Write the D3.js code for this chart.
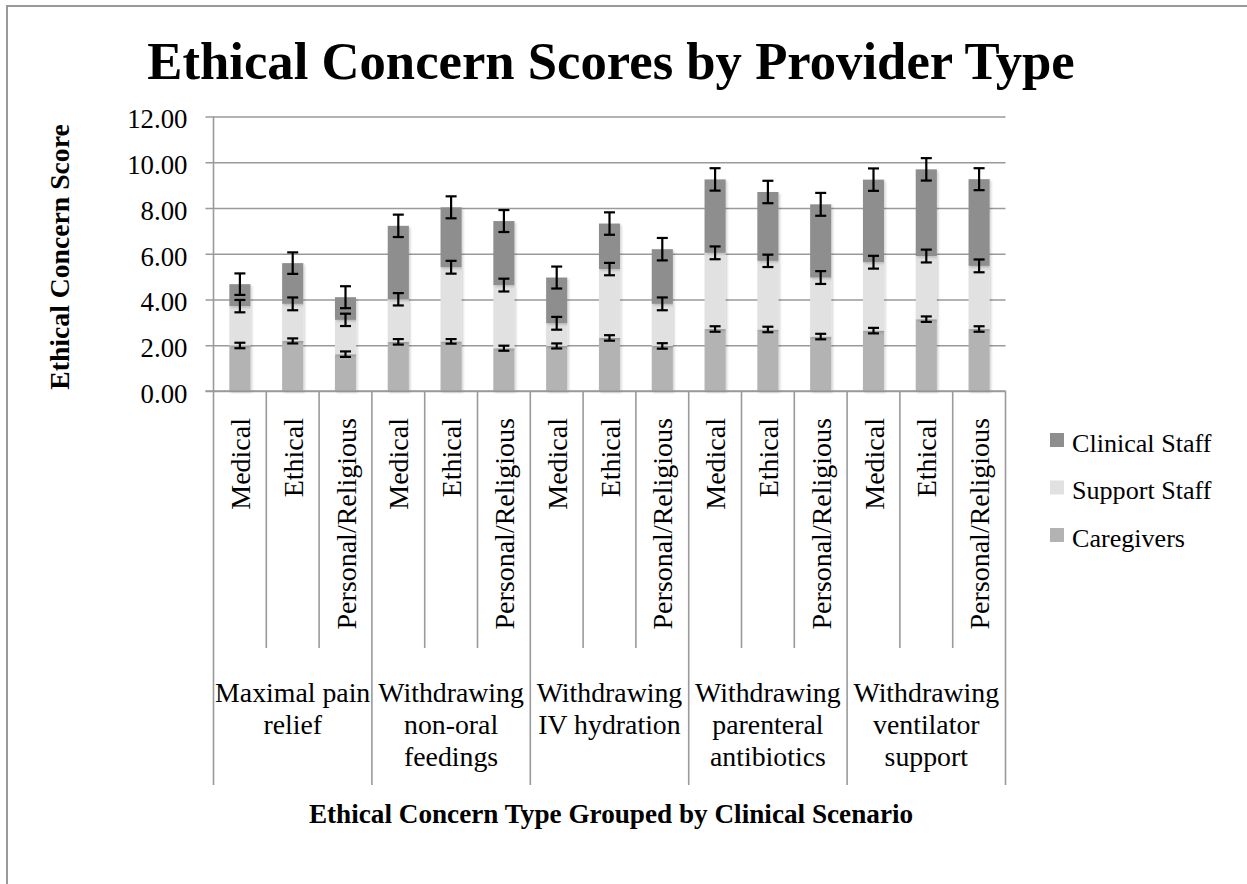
<!DOCTYPE html>
<html>
<head>
<meta charset="utf-8">
<script src="https://cdn.jsdelivr.net/npm/d3@7"></script>
<style>
  html, body { margin: 0; padding: 0; background: #fff; }
  svg { display: block; font-family: "Liberation Serif", "Times New Roman", serif; }
</style>
</head>
<body>
<div id="chart"></div>
<script>
// --- data ---
const scenarioLines = [
  ["Maximal pain", "relief"],
  ["Withdrawing", "non-oral", "feedings"],
  ["Withdrawing", "IV hydration"],
  ["Withdrawing", "parenteral", "antibiotics"],
  ["Withdrawing", "ventilator", "support"]
];
const concernTypes = ["Medical", "Ethical", "Personal/Religious"];
const seriesNames = ["Caregivers", "Support Staff", "Clinical Staff"];

// segment heights (stacked), one value per concern type x scenario
const caregivers   = [1.99, 2.19, 1.61, 2.15, 2.17, 1.87, 1.97, 2.32, 1.97, 2.71, 2.69, 2.38, 2.64, 3.14, 2.71];
const supportStaff = [1.72, 1.62, 1.50, 1.86, 3.24, 2.76, 0.99, 3.01, 1.84, 3.33, 3.00, 2.58, 2.99, 2.76, 2.76];
const clinicalStaff= [0.96, 1.78, 0.99, 3.21, 2.62, 2.80, 2.00, 1.99, 2.39, 3.21, 3.01, 3.20, 3.61, 3.79, 3.79];

// error bar half widths
const errCaregivers = [0.12, 0.11, 0.12, 0.12, 0.10, 0.11, 0.11, 0.12, 0.12, 0.12, 0.12, 0.12, 0.12, 0.12, 0.12];
const errSupport    = [0.27, 0.28, 0.27, 0.27, 0.28, 0.28, 0.28, 0.27, 0.28, 0.28, 0.27, 0.28, 0.28, 0.28, 0.28];
const errClinical   = [0.47, 0.47, 0.48, 0.49, 0.48, 0.48, 0.48, 0.49, 0.49, 0.49, 0.49, 0.50, 0.49, 0.49, 0.48];

const yTicks = [0, 2, 4, 6, 8, 10, 12];

const colors = { "Caregivers": "#b3b3b3", "Support Staff": "#e1e1e1", "Clinical Staff": "#8e8e8e" };
const legendOrder = ["Clinical Staff", "Support Staff", "Caregivers"];

// --- build rows ---
const rows = [];
scenarioLines.forEach((s, gi) => {
  concernTypes.forEach((c, ci) => {
    const i = gi * 3 + ci;
    rows.push({
      key: i, group: gi, type: c,
      "Caregivers": caregivers[i],
      "Support Staff": supportStaff[i],
      "Clinical Staff": clinicalStaff[i],
      err: { "Caregivers": errCaregivers[i], "Support Staff": errSupport[i], "Clinical Staff": errClinical[i] }
    });
  });
});

const W = 1247, H = 884;
const plot = { left: 213.5, right: 1005.5, top: 116.5, bottom: 391 };

const svg = d3.select("#chart").append("svg")
  .attr("width", W).attr("height", H);

const defs = svg.append("defs");
const shadow = defs.append("filter").attr("id", "shadow")
  .attr("x", "-20%").attr("y", "-10%").attr("width", "150%").attr("height", "130%");
shadow.append("feDropShadow")
  .attr("dx", 1.5).attr("dy", 1.5).attr("stdDeviation", 1.2)
  .attr("flood-color", "#000").attr("flood-opacity", 0.18);

// outer frame
svg.append("line").attr("x1", 6).attr("x2", W).attr("y1", 6).attr("y2", 6)
  .attr("stroke", "#999").attr("stroke-width", 2);
svg.append("line").attr("x1", 7).attr("x2", 7).attr("y1", 6).attr("y2", H)
  .attr("stroke", "#999").attr("stroke-width", 2);

const x = d3.scaleBand()
  .domain(rows.map(d => d.key))
  .range([plot.left, plot.right])
  .paddingInner(0.6).paddingOuter(0.3);

const y = d3.scaleLinear().domain([0, 12]).range([plot.bottom, plot.top]);

// gridlines + y axis
const gy = svg.append("g").attr("transform", `translate(${plot.left},0)`).call(
  d3.axisLeft(y).tickValues(yTicks).tickFormat(d3.format(".2f"))
    .tickSizeInner(-(plot.right - plot.left)).tickSizeOuter(0).tickPadding(26)
);
gy.select(".domain").remove();
gy.selectAll(".tick line").attr("x1", -8).attr("stroke", "#9a9a9a").attr("stroke-width", 1.6);
gy.selectAll(".tick text")
  .attr("font-family", "Liberation Serif").attr("font-size", 26.8).attr("fill", "#000")
  .attr("dy", "0.42em");

// category separators
const step = x.step();
const sepX = d3.range(rows.length + 1).map(i => plot.left + i * step);
svg.append("g").selectAll("line").data(sepX).join("line")
  .attr("x1", d => d).attr("x2", d => d)
  .attr("y1", (d, i) => i === 0 ? plot.top : plot.bottom)
  .attr("y2", (d, i) => i % 3 === 0 ? 785 : 648)
  .attr("stroke", "#9a9a9a").attr("stroke-width", 1.6);

// stacked bars
const stack = d3.stack().keys(seriesNames);
const stacked = stack(rows);

const layers = svg.append("g").selectAll("g").data(stacked).join("g")
  .attr("fill", d => colors[d.key]);
layers.selectAll("rect").data(d => d).join("rect")
  .attr("x", d => x(d.data.key))
  .attr("width", x.bandwidth())
  .attr("y", d => y(d[1]))
  .attr("height", d => y(d[0]) - y(d[1]))
  .attr("filter", "url(#shadow)");

// error bars
const capW = 11;
const errs = svg.append("g").attr("stroke", "#000").attr("stroke-width", 2.2).attr("fill", "none");
stacked.forEach(layer => {
  layer.forEach(d => {
    const cx = x(d.data.key) + x.bandwidth() / 2;
    const e = d.data.err[layer.key];
    const yHi = y(d[1] + e), yLo = y(d[1] - e);
    errs.append("line").attr("x1", cx).attr("x2", cx).attr("y1", yHi).attr("y2", yLo);
    errs.append("line").attr("x1", cx - capW / 2).attr("x2", cx + capW / 2).attr("y1", yHi).attr("y2", yHi);
    errs.append("line").attr("x1", cx - capW / 2).attr("x2", cx + capW / 2).attr("y1", yLo).attr("y2", yLo);
  });
});

// x axis line
svg.append("line").attr("x1", plot.left - 8).attr("x2", plot.right)
  .attr("y1", plot.bottom).attr("y2", plot.bottom)
  .attr("stroke", "#9a9a9a").attr("stroke-width", 1.6);

// category labels (rotated)
svg.append("g").selectAll("text").data(rows).join("text")
  .attr("transform", d => `translate(${x(d.key) + x.bandwidth() / 2},418) rotate(-90)`)
  .attr("text-anchor", "end")
  .attr("dy", "0.36em")
  .attr("font-size", 28)
  .text(d => d.type);

// scenario labels
const groupW = step * 3;
const gl = svg.append("g").selectAll("text").data(scenarioLines).join("text")
  .attr("text-anchor", "middle")
  .attr("font-size", 27.8)
  .attr("x", (d, i) => plot.left + i * groupW + groupW / 2)
  .attr("y", 702);
gl.selectAll("tspan").data(d => d).join("tspan")
  .attr("x", function () { return d3.select(this.parentNode).attr("x"); })
  .attr("dy", (d, i) => i === 0 ? 0 : 32)
  .text(d => d);

// titles
svg.append("text")
  .attr("x", 611).attr("y", 79)
  .attr("text-anchor", "middle")
  .attr("font-size", 52.7).attr("font-weight", "bold")
  .text("Ethical Concern Scores by Provider Type");

svg.append("text")
  .attr("x", 611).attr("y", 823)
  .attr("text-anchor", "middle")
  .attr("font-size", 27.2).attr("font-weight", "bold")
  .text("Ethical Concern Type Grouped by Clinical Scenario");

svg.append("text")
  .attr("transform", "translate(59,257) rotate(-90)")
  .attr("text-anchor", "middle")
  .attr("dy", "0.35em")
  .attr("font-size", 27.7).attr("font-weight", "bold")
  .text("Ethical Concern Score");

// legend
const lg = svg.append("g").attr("transform", "translate(1050,433)");
const li = lg.selectAll("g").data(legendOrder).join("g")
  .attr("transform", (d, i) => `translate(0,${i * 47.5})`);
li.append("rect").attr("width", 14).attr("height", 14).attr("fill", d => colors[d]);
li.append("text").attr("x", 22).attr("y", 18.5).attr("font-size", 26.1).text(d => d);
</script>
</body>
</html>
